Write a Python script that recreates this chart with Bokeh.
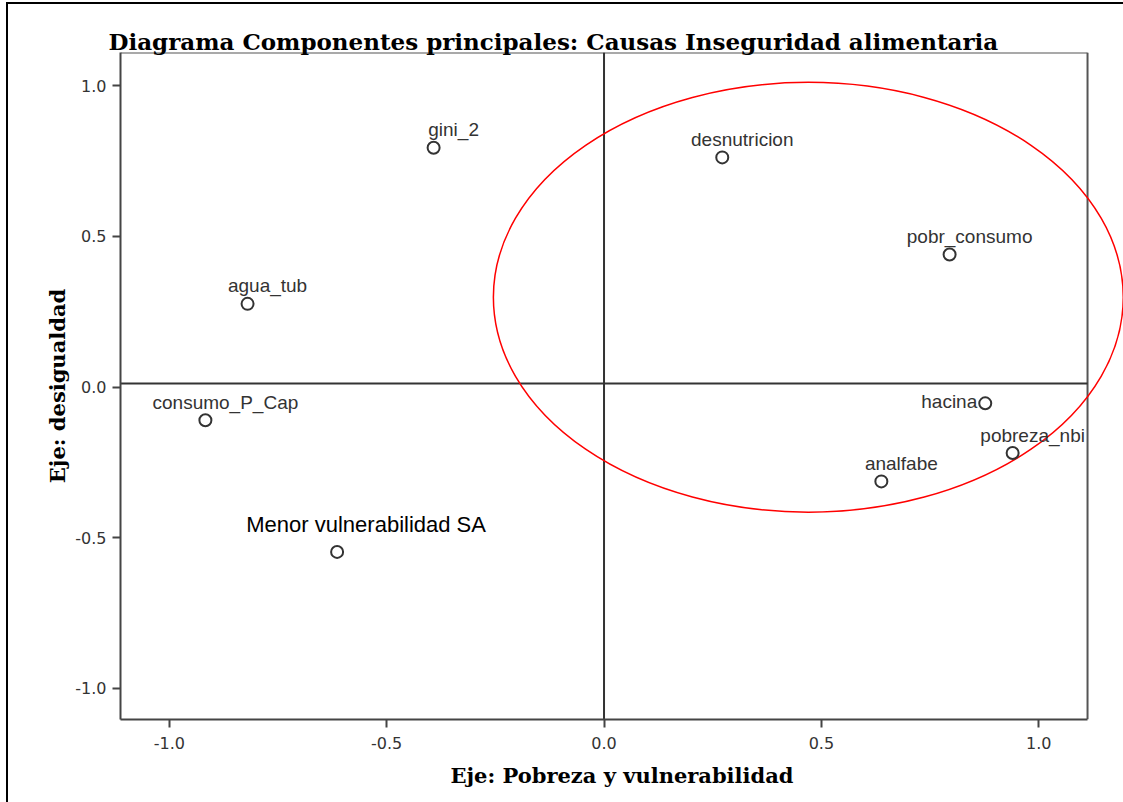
from bokeh.plotting import figure
from bokeh.models import ColumnDataSource, Range1d, FixedTicker
from bokeh.core.properties import value
from bokeh.embed import file_html
from bokeh.resources import INLINE

# ---- data (component loadings) ----
variables = ["gini_2", "desnutricion", "pobr_consumo", "agua_tub", "consumo_P_Cap",
             "hacina", "pobreza_nbi", "analfabe", "Menor vulnerabilidad SA"]
comp1 = [-0.392, 0.272, 0.795, -0.820, -0.917, 0.877, 0.940, 0.638, -0.614]
comp2 = [0.794, 0.762, 0.440, 0.276, -0.110, -0.054, -0.219, -0.313, -0.547]

tick_values = [-1.0, -0.5, 0.0, 0.5, 1.0]
tick_labels = ["-1.0", "-0.5", "0.0", "0.5", "1.0"]

title_text = "Diagrama Componentes principales: Causas Inseguridad alimentaria"
x_label = "Eje: Pobreza y vulnerabilidad"
y_label = "Eje: desigualdad"

# ---- label styling (screen offsets, not data) ----
lbl_dx = [20, 20, 20, 20, 20, -8, 20, 20, 29]
lbl_dy = [-18, -18, -18, -18, -18, -2, -18, -18, -27]
lbl_align = ["center"] * 5 + ["right"] + ["center"] * 2 + ["center"]
lbl_size = ["19px"] * 8 + ["22px"]
lbl_color = ["#333333"] * 8 + ["#000000"]

W, H = 1123, 802
XMIN, XMAX_VIS = -1.1123, 1.1123
XMAX = XMIN + (W - 120) / 434.7
YMIN, YMAX = -1.103, 1.110

src = ColumnDataSource(dict(x=comp1, y=comp2, name=variables, dx=lbl_dx, dy=lbl_dy,
                            align=lbl_align, size=lbl_size, color=lbl_color))

p = figure(width=W, height=H, output_backend="svg", toolbar_location=None,
           x_range=Range1d(XMIN, XMAX), y_range=Range1d(YMIN, YMAX),
           min_border_left=120, min_border_right=0, min_border_top=52, min_border_bottom=83)
p.outline_line_color = None
p.xgrid.visible = False
p.ygrid.visible = False
p.background_fill_color = "white"
p.border_fill_color = None
# outer page frame (left and top edges) drawn behind the transparent border area
p.styles = {"box-shadow": "inset 6px 2px 0 0 #ffffff, inset 8px 4px 0 0 #000000",
            "background-color": "#ffffff"}

# title
p.title.text = title_text
p.title.text_font = "DejaVu Serif"
p.title.text_font_style = "bold"
p.title.text_font_size = "23px"
p.title.text_color = "#000000"
p.title.align = "left"
p.title.offset = -12
p.title.standoff = -4

# axes
for ax, lab in ((p.xaxis[0], x_label), (p.yaxis[0], y_label)):
    ax.ticker = FixedTicker(ticks=tick_values)
    ax.major_label_overrides = {t: l for t, l in zip(tick_values, tick_labels)}
    ax.axis_line_width = 2
    ax.axis_line_color = "#444444"
    ax.major_tick_line_width = 2
    ax.major_tick_line_color = "#444444"
    ax.major_tick_in = 0
    ax.major_tick_out = 8
    ax.minor_tick_line_color = None
    ax.major_label_text_font = "DejaVu Sans"
    ax.major_label_text_font_size = "16px"
    ax.major_label_text_color = "#333333"
    ax.axis_label = lab
    ax.axis_label_text_font = "DejaVu Serif"
    ax.axis_label_text_font_style = "bold"
    ax.axis_label_text_font_size = "21px"
    ax.axis_label_text_color = "#000000"
p.xaxis[0].bounds = (XMIN, XMAX_VIS)
p.xaxis[0].major_label_standoff = 9
p.xaxis[0].axis_label_standoff = 11
p.yaxis[0].major_label_standoff = 6
p.yaxis[0].axis_label_standoff = 2

# visible frame (top and right borders)
p.segment(x0=[XMIN, XMAX_VIS], y0=[YMAX, YMIN], x1=[XMAX_VIS, XMAX_VIS], y1=[YMAX, YMAX],
          line_color="#555555", line_width=2)

# reference lines through the origin
p.segment(x0=[0.0, XMIN], y0=[YMIN, 0.012], x1=[0.0, XMAX_VIS], y1=[YMAX, 0.012],
          line_color="#333333", line_width=2)

# red ellipse highlighting group
p.ellipse(x=0.470, y=0.298, width=1.449, height=1.426, fill_color=None,
          line_color="#ff0000", line_width=1.5)

# points
p.scatter("x", "y", source=src, marker="circle", size=12, fill_color="white",
          line_color="#333333", line_width=2)

# labels
p.text("x", "y", text="name", source=src, x_offset="dx", y_offset="dy",
       text_align="align", text_baseline="alphabetic", text_font=value("Liberation Sans"),
       text_font_size="size", text_color="color")

open("out.html", "w").write(file_html(p, INLINE))
